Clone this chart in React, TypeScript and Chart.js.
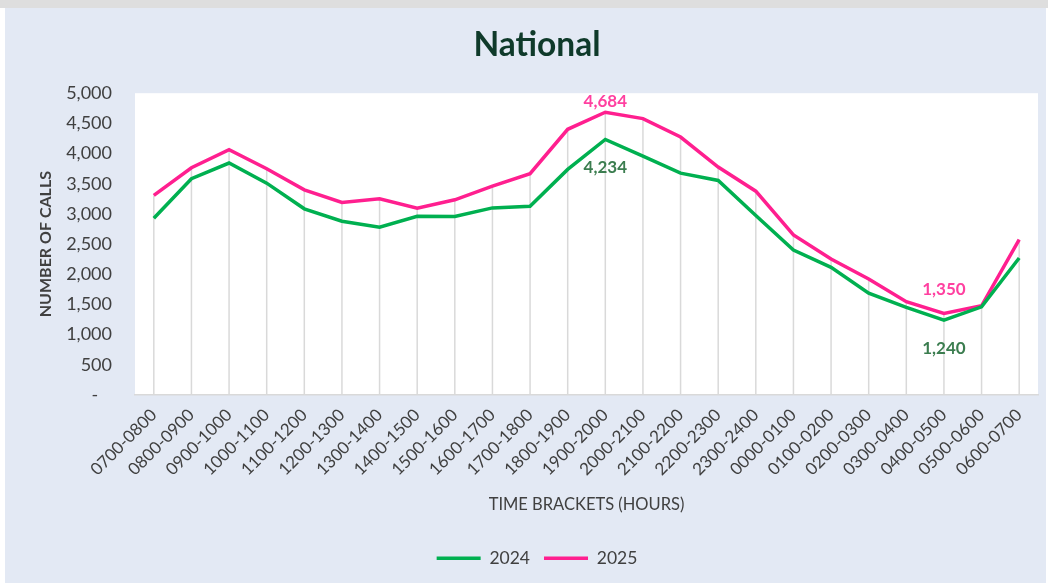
import React, { useEffect, useRef } from "react";
import { Chart, registerables } from "chart.js";

Chart.register(...registerables);

const categories = [
  "0700-0800", "0800-0900", "0900-1000", "1000-1100", "1100-1200", "1200-1300",
  "1300-1400", "1400-1500", "1500-1600", "1600-1700", "1700-1800", "1800-1900",
  "1900-2000", "2000-2100", "2100-2200", "2200-2300", "2300-2400", "0000-0100",
  "0100-0200", "0200-0300", "0300-0400", "0400-0500", "0500-0600", "0600-0700",
];

const series2024 = [
  2929, 3583, 3843, 3510, 3085, 2879, 2780, 2962, 2957, 3100, 3128, 3738,
  4234, 3958, 3676, 3555, 2973, 2403, 2115, 1689, 1451, 1240, 1462, 2270,
];

const series2025 = [
  3306, 3765, 4064, 3748, 3400, 3189, 3250, 3095, 3234, 3460, 3666, 4402,
  4684, 4579, 4274, 3776, 3377, 2652, 2254, 1922, 1545, 1350, 1478, 2575,
];

const seriesNames = ["2024", "2025"];
const yMin = 0;
const yMax = 5000;
const yStep = 500;

// which points carry a value label (dataset index, category index)
const labelledPoints = [
  { dataset: 1, index: 12 },
  { dataset: 0, index: 12 },
  { dataset: 1, index: 21 },
  { dataset: 0, index: 21 },
];

const FONT = "Lato, 'Open Sans', sans-serif";
const GREEN = "#00b050";
const PINK = "#ff1f8f";
const GREEN_LABEL = "#3b7d4f";
const PINK_LABEL = "#ff40a0";
const TEXT = "#404040";

const fmt = (v: number) => v.toLocaleString("en-US");

const chartAreaBg = {
  id: "chartAreaBg",
  beforeDraw(chart: any) {
    const { ctx, chartArea } = chart;
    ctx.save();
    ctx.fillStyle = "#ffffff";
    ctx.fillRect(chartArea.left, chartArea.top, chartArea.right - chartArea.left, chartArea.bottom - chartArea.top);
    ctx.restore();
  },
};

const dropLines = {
  id: "dropLines",
  beforeDatasetsDraw(chart: any) {
    const { ctx } = chart;
    const xs = chart.scales.x;
    const ys = chart.scales.y;
    ctx.save();
    ctx.strokeStyle = "#d9d9d9";
    ctx.lineWidth = 1.5;
    categories.forEach((_, i) => {
      const top = Math.max(...chart.data.datasets.map((d: any) => d.data[i]));
      const x = xs.getPixelForValue(i);
      ctx.beginPath();
      ctx.moveTo(x, ys.getPixelForValue(top));
      ctx.lineTo(x, ys.bottom);
      ctx.stroke();
    });
    ctx.restore();
  },
};

const valueLabels = {
  id: "valueLabels",
  afterDatasetsDraw(chart: any) {
    const { ctx } = chart;
    ctx.save();
    ctx.font = `bold 17px ${FONT}`;
    ctx.textAlign = "center";
    ctx.textBaseline = "middle";
    labelledPoints.forEach((p) => {
      const el = chart.getDatasetMeta(p.dataset).data[p.index];
      const v = chart.data.datasets[p.dataset].data[p.index];
      const above = p.dataset === 1;
      const extra = above && v < 2000 ? 13 : 0;
      ctx.fillStyle = above ? PINK_LABEL : GREEN_LABEL;
      ctx.fillText(fmt(v), el.x, above ? el.y - 11 - extra : el.y + 28);
    });
    ctx.restore();
  },
};

export default function App() {
  const ref = useRef<HTMLCanvasElement | null>(null);

  useEffect(() => {
    if (!ref.current) return;
    const chart = new Chart(ref.current, {
      type: "line",
      data: {
        labels: categories,
        datasets: [
          {
            label: seriesNames[0],
            data: series2024,
            borderColor: GREEN,
            backgroundColor: GREEN,
            borderWidth: 3.5,
            pointRadius: 0,
            tension: 0,
          },
          {
            label: seriesNames[1],
            data: series2025,
            borderColor: PINK,
            backgroundColor: PINK,
            borderWidth: 3.5,
            pointRadius: 0,
            tension: 0,
          },
        ],
      },
      options: {
        animation: false,
        responsive: false,
        maintainAspectRatio: false,
        layout: { padding: { top: 25, left: 36, right: 10, bottom: 6 } },
        plugins: {
          title: {
            display: true,
            text: "National",
            color: "#0f3a2a",
            font: { family: FONT, size: 33.5, weight: "bold" },
            padding: { top: 0, bottom: 28 },
          },
          legend: {
            display: true,
            position: "bottom",
            labels: {
              usePointStyle: true,
              pointStyle: "line",
              pointStyleWidth: 44,
              color: TEXT,
              font: { family: FONT, size: 17.5 },
              padding: 14,
            },
          },
          tooltip: { enabled: false },
        },
        scales: {
          x: {
            type: "category",
            offset: true,
            grid: { display: false, drawTicks: false },
            border: { display: true, color: "#d9d9d9", width: 1.5 },
            ticks: {
              color: TEXT,
              font: { family: FONT, size: 17 },
              maxRotation: 45,
              minRotation: 45,
              autoSkip: false,
              padding: 10,
            },
            title: {
              display: true,
              text: "TIME BRACKETS (HOURS)",
              color: TEXT,
              font: { family: FONT, size: 16.5 },
              padding: { top: 5, bottom: 21 },
            },
          },
          y: {
            min: yMin,
            max: yMax,
            grid: { display: false, drawTicks: false },
            border: { display: false },
            afterFit: (scale: any) => {
              scale.width = 99;
            },
            ticks: {
              stepSize: yStep,
              color: TEXT,
              font: { family: FONT, size: 18 },
              padding: 23,
              callback: (v: any) => (Number(v) === 0 ? "-   " : fmt(Number(v))),
            },
            title: {
              display: true,
              text: "NUMBER OF CALLS",
              color: TEXT,
              font: { family: FONT, size: 16, weight: "bold" },
              padding: { top: 0, bottom: 0 },
            },
          },
        },
      },
      plugins: [chartAreaBg, dropLines, valueLabels],
    });
    return () => chart.destroy();
  }, []);

  return (
    <div style={{ position: "fixed", left: 0, top: 0, width: 1048, height: 583, background: "#ffffff", overflow: "hidden" }}>
      <div style={{ position: "absolute", left: 0, top: 0, width: 1048, height: 8, background: "#dedede" }} />
      <div style={{ position: "absolute", left: 5, top: 8, width: 1041, height: 575, background: "#e3e9f4" }} />
      <canvas ref={ref} width={1048} height={583} style={{ position: "absolute", left: 0, top: 0, width: 1048, height: 583 }} />
    </div>
  );
}
